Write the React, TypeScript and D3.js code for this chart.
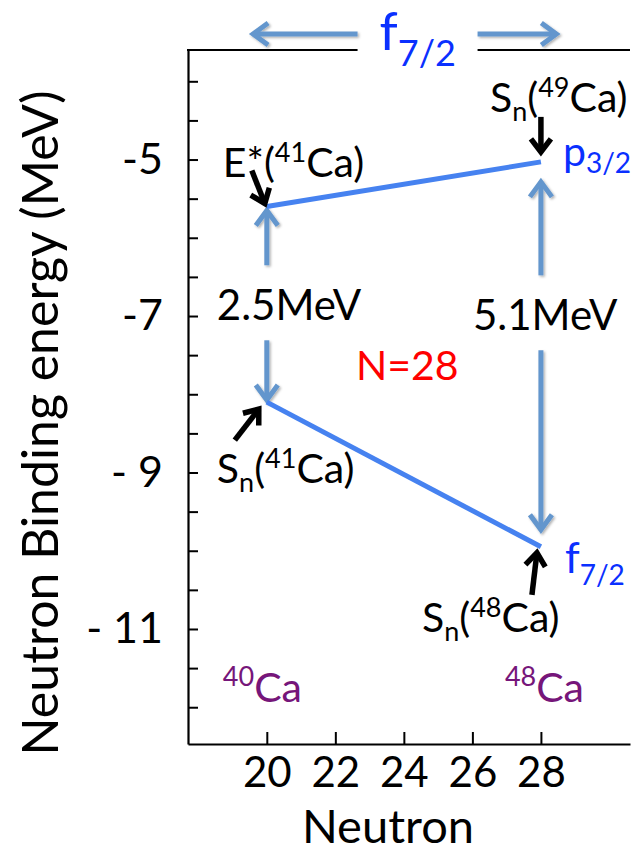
import * as d3 from 'd3';
import {useEffect, useRef} from "react";

// levels (MeV), for N = 20 and N = 28
const neutronNumbers = [20, 28];
const f72Levels = [-8.1, -9.95];   // Sn(41Ca), Sn(48Ca)
const p32Levels = [-5.6, -5.03];   // E*(41Ca), Sn(49Ca)
const gapLabels = ["2.5MeV", "5.1MeV"];
const massNumbers = ["40", "48"];

const xTickValues = [20, 22, 24, 26, 28];
const yTickValues = [-5, -7, -9, -11];
const yTickLabels = ["-5", "-7", "- 9", "- 11"];

const FONT = "Lato, Carlito, 'DejaVu Sans', sans-serif";
const LEVEL_BLUE = "#4682f0";
const ARROW_BLUE = "#6496cd";
const LABEL_BLUE = "#0a30ff";
const PURPLE = "#76167a";

type Part = [string, number, number]; // text, font size, dy

export default function App() {
    const svgRef = useRef<SVGSVGElement | null>(null);

    useEffect(() => {
        const width = 637, height = 853;
        d3.select("body").style("margin", "0");

        const svg = d3.select(svgRef.current)
            .attr("width", width)
            .attr("height", height)
            .html("");

        svg.append("rect").attr("width", width).attr("height", height).attr("fill", "white");

        const defs = svg.append("defs");
        const shadow = defs.append("filter").attr("id", "shadow")
            .attr("x", "-20%").attr("y", "-20%").attr("width", "140%").attr("height", "140%");
        shadow.append("feDropShadow")
            .attr("dx", 1.5).attr("dy", 1.5).attr("stdDeviation", 1.2)
            .attr("flood-color", "#000").attr("flood-opacity", 0.3);

        const plotLeft = 188, plotRight = 630, plotTop = 50, plotBottom = 744;

        const x = d3.scaleLinear().domain([17.7, 30.6]).range([plotLeft, plotRight]);
        const y = d3.scaleLinear().domain([-3.6, -12.47]).range([plotTop, plotBottom]);

        // x axis
        const xAxis = svg.append("g")
            .attr("transform", `translate(0,${plotBottom})`)
            .call(d3.axisBottom(x).tickValues(xTickValues).tickSizeInner(-12).tickSizeOuter(0).tickPadding(13.5));
        xAxis.select(".domain").attr("stroke-width", 2.2);
        xAxis.selectAll(".tick line").attr("stroke-width", 2);
        xAxis.selectAll("text").attr("font-family", FONT).attr("font-size", 42).attr("fill", "#000");

        // y axis, minor ticks every 0.5 MeV
        const allTicks = d3.range(-12, -3.99, 0.5);
        const yAxis = svg.append("g")
            .attr("transform", `translate(${plotLeft},0)`)
            .call(d3.axisLeft(y).tickValues(allTicks).tickSizeInner(-10).tickSizeOuter(0).tickPadding(25)
                .tickFormat(d => {
                    const i = yTickValues.indexOf(+d);
                    return i >= 0 ? yTickLabels[i] : "";
                }));
        yAxis.select(".domain").attr("stroke-width", 2.2);
        yAxis.selectAll(".tick line").attr("stroke-width", 2);
        yAxis.selectAll("text").attr("font-family", FONT).attr("font-size", 43).attr("fill", "#000");

        // top border
        svg.append("line")
            .attr("x1", plotLeft - 1).attr("x2", plotRight)
            .attr("y1", plotTop).attr("y2", plotTop)
            .attr("stroke", "#000").attr("stroke-width", 2.2);

        // axis titles
        svg.append("text")
            .attr("x", 388)
            .attr("y", 843)
            .attr("text-anchor", "middle")
            .attr("font-family", FONT).attr("font-size", 47)
            .text("Neutron");

        svg.append("text")
            .attr("transform", `translate(58,423) rotate(-90)`)
            .attr("text-anchor", "middle")
            .attr("font-family", FONT).attr("font-size", 50)
            .text("Neutron Binding energy (MeV)");

        const rich = (px: number, py: number, parts: Part[], color: string, anchor = "start") => {
            const t = svg.append("text")
                .attr("x", px).attr("y", py)
                .attr("text-anchor", anchor)
                .attr("font-family", FONT)
                .attr("fill", color);
            parts.forEach(([s, size, dy]) => {
                t.append("tspan").attr("font-size", size).attr("dy", dy).text(s);
            });
            return t;
        };

        const arrowHead = (g: any, tail: [number, number], tip: [number, number], len: number, w: number) => {
            const dx = tip[0] - tail[0], dy = tip[1] - tail[1];
            const L = Math.hypot(dx, dy);
            const ux = dx / L, uy = dy / L;
            const bx = tip[0] - ux * len, by = tip[1] - uy * len;
            const p = d3.path();
            p.moveTo(bx - uy * w, by + ux * w);
            p.lineTo(tip[0], tip[1]);
            p.lineTo(bx + uy * w, by - ux * w);
            g.append("path").attr("d", p.toString()).attr("fill", "none");
        };

        const arrow = (tail: [number, number], tip: [number, number], color: string, sw: number,
                       len: number, w: number, filter?: string) => {
            const g = svg.append("g")
                .attr("stroke", color).attr("stroke-width", sw)
                .attr("stroke-linejoin", "miter").attr("stroke-linecap", "butt");
            if (filter) g.attr("filter", filter);
            g.append("line")
                .attr("x1", tail[0]).attr("y1", tail[1])
                .attr("x2", tip[0]).attr("y2", tip[1]);
            arrowHead(g, tail, tip, len, w);
        };

        // top f7/2 double arrow label
        const topCenter = x(24.4);
        const topY = plotTop - 16;
        svg.append("rect")
            .attr("x", topCenter - 60).attr("y", plotTop - 3)
            .attr("width", 120).attr("height", 6).attr("fill", "white");
        arrow([topCenter - 60, topY], [x(19.6), topY], ARROW_BLUE, 5, 15, 11, "url(#shadow)");
        arrow([topCenter + 60, topY], [x(28.45), topY], ARROW_BLUE, 5, 15, 11, "url(#shadow)");
        rich(topCenter - 38, plotTop, [["f", 52, 0], ["7/2", 36, 16]], LABEL_BLUE);

        const pts = neutronNumbers.map((n, i) => ({
            x: x(n),
            up: y(p32Levels[i]),
            low: y(f72Levels[i])
        }));

        // gap labels and the vertical double arrows
        const gapBaselines = [(pts[0].up + pts[0].low) / 2 + 16, (pts[1].up + pts[1].low) / 2 - 24];
        const gapStarts = [pts[0].x - 50, pts[1].x - 68];
        const upTips = [pts[0].up + 4, pts[1].up + 20];
        const lowTips = [pts[0].low - 2, pts[1].low - 17];
        pts.forEach((p, i) => {
            arrow([p.x, gapBaselines[i] - 55], [p.x, upTips[i]], ARROW_BLUE, 5, 15, 11, "url(#shadow)");
            arrow([p.x, gapBaselines[i] + 20], [p.x, lowTips[i]], ARROW_BLUE, 5, 15, 11, "url(#shadow)");
            rich(gapStarts[i], gapBaselines[i], [[gapLabels[i], 42, 0]], "#000");
        });

        // level lines
        const line = d3.line<[number, number]>();
        svg.append("path")
            .attr("d", line(pts.map(p => [p.x, p.up] as [number, number])))
            .attr("stroke", LEVEL_BLUE).attr("stroke-width", 5).attr("fill", "none");
        svg.append("path")
            .attr("d", line(pts.map(p => [p.x, p.low] as [number, number])))
            .attr("stroke", LEVEL_BLUE).attr("stroke-width", 5).attr("fill", "none");

        // black pointer arrows
        const blk = (p: {x: number}, py: number, t: [number, number], h: [number, number]) =>
            arrow([p.x + t[0], py + t[1]], [p.x + h[0], py + h[1]], "#000", 5.5, 13, 10);
        blk(pts[0], pts[0].up, [-15, -36], [-2, -3]);
        blk(pts[1], pts[1].up, [0, -45], [0, -10]);
        blk(pts[0], pts[0].low, [-32, 38], [-8, 7]);
        blk(pts[1], pts[1].low, [-9, 48], [-4, 6]);

        // annotations
        rich(pts[0].x - 44, pts[0].up - 29, [["E*(", 41, 0], ["41", 27, -15], ["Ca)", 41, 15]], "#000");
        rich(pts[1].x - 51, pts[1].up - 50,
            [["S", 41, 0], ["n", 27, 9], ["(", 41, -9], ["49", 27, -15], ["Ca)", 41, 15]], "#000");
        rich(pts[1].x + 22, pts[1].up + 4, [["p", 41, 0], ["3/2", 28, 7]], LABEL_BLUE);

        rich(pts[0].x - 50, pts[0].low + 81,
            [["S", 41, 0], ["n", 27, 9], ["(", 41, -9], ["41", 27, -15], ["Ca)", 41, 15]], "#000");
        rich(pts[1].x + 24, pts[1].low + 26, [["f", 42, 0], ["7/2", 28, 12]], LABEL_BLUE);
        rich(pts[1].x - 119, pts[1].low + 85,
            [["S", 41, 0], ["n", 27, 9], ["(", 41, -9], ["48", 27, -15], ["Ca)", 41, 15]], "#000");

        rich(x(24.1), 380, [["N=28", 41, 0]], "#ff0000", "middle");

        const massOffsets = [-44, -36];
        pts.forEach((p, i) => {
            rich(p.x + massOffsets[i], plotBottom - 42,
                [[massNumbers[i], 27, -16], ["Ca", 41, 16]], PURPLE);
        });
    }, []);

    return <svg ref={svgRef}></svg>;
}
